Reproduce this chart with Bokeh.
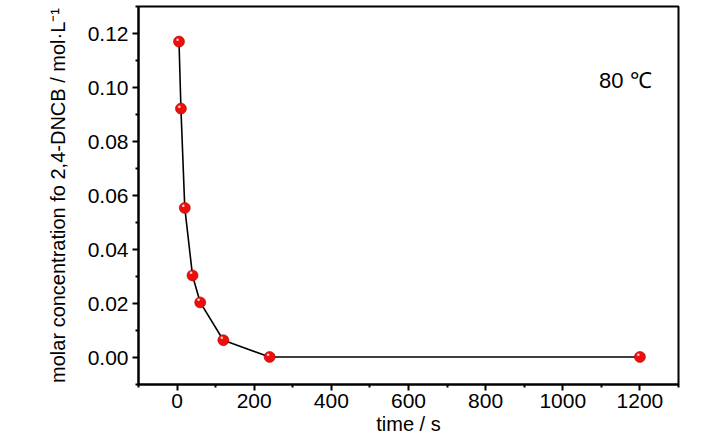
from bokeh.plotting import figure
from bokeh.models import FixedTicker, PrintfTickFormatter, Label
from bokeh.embed import file_html
from bokeh.resources import INLINE
from bokeh.core.properties import value

# data
time_s = [5, 10, 20, 40, 60, 120, 240, 1200]
conc = [0.117, 0.0922, 0.0554, 0.0304, 0.0204, 0.0064, 0.0002, 0.0002]
x_major = [0, 200, 400, 600, 800, 1000, 1200]
x_minor = [-100, 100, 300, 500, 700, 900, 1100, 1300]
y_major = [0.0, 0.02, 0.04, 0.06, 0.08, 0.10, 0.12]
y_minor = [-0.01, 0.01, 0.03, 0.05, 0.07, 0.09, 0.11, 0.13]
temp_label = "80 \u2103"
x_title = "time / s"
y_title = "molar concentration fo 2,4-DNCB / mol\u00b7L\u207b\u00b9"

FONT = "Liberation Sans"

p = figure(width=728, height=442, x_range=(-100, 1300), y_range=(-0.01, 0.13),
           output_backend="svg", toolbar_location=None,
           min_border_left=138, min_border_right=50, min_border_top=6,
           min_border_bottom=58)
p.outline_line_color = "black"
p.outline_line_width = 2
p.xgrid.visible = False
p.ygrid.visible = False
p.background_fill_color = "white"
p.border_fill_color = "white"

p.xaxis.ticker = FixedTicker(ticks=x_major, minor_ticks=x_minor)
p.yaxis.ticker = FixedTicker(ticks=y_major, minor_ticks=y_minor)
p.yaxis.formatter = PrintfTickFormatter(format="%.2f")

for ax in (p.xaxis, p.yaxis):
    ax.axis_line_width = 2
    ax.axis_line_color = "black"
    ax.major_tick_in = 0
    ax.major_tick_out = 6
    ax.minor_tick_in = 0
    ax.minor_tick_out = 3
    ax.major_tick_line_width = 2
    ax.minor_tick_line_width = 2
    ax.major_label_text_font = FONT
    ax.major_label_text_font_size = "21px"
    ax.major_label_text_color = "black"
    ax.axis_label_text_font = FONT
    ax.axis_label_text_font_size = "20px"
    ax.axis_label_text_font_style = "normal"
    ax.axis_label_text_color = "black"

p.xaxis.axis_label = x_title
p.yaxis.axis_label = y_title
p.xaxis.major_label_standoff = 3
p.xaxis.axis_label_standoff = 2
p.yaxis.major_label_standoff = 4
p.yaxis.axis_label_standoff = 16

p.line(time_s, conc, line_color="black", line_width=1.6)
p.scatter(time_s, conc, size=11, fill_color="#ee0e0e", line_color="#b00000", line_width=0.6)
p.text(time_s, conc, text=["\u2022"] * len(time_s), x_offset=-1.5, y_offset=-1.5,
       text_align="center", text_baseline="middle", text_font_size="8px",
       text_color="#ffd0d0", text_font=value("DejaVu Sans"))

p.add_layout(Label(x=1094, y=0.1027, text=temp_label, text_font=FONT,
                   text_font_size="22px", text_baseline="middle", text_align="left",
                   text_color="black"))

open("out.html", "w").write(file_html(p, INLINE))
